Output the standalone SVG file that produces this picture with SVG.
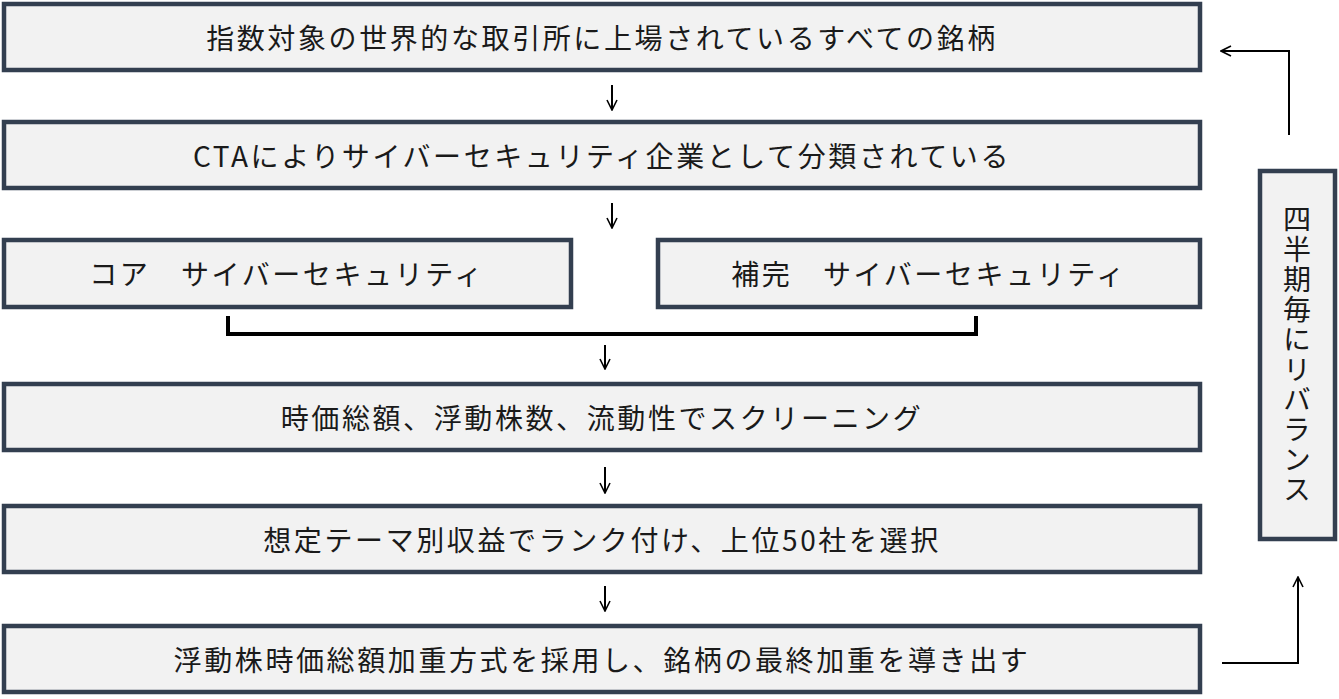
<svg xmlns="http://www.w3.org/2000/svg" width="1339" height="699" viewBox="0 0 1339 699">
<style>
.b{fill:#f2f2f2;stroke:#333f50;stroke-width:4.5}
.t{font-family:"Noto Sans CJK JP","Noto Sans",sans-serif;font-size:28px;letter-spacing:2.6px;fill:#1a1a1a;text-anchor:middle;dominant-baseline:central}
.c{fill:none;stroke:#000;stroke-width:2}
</style>
<defs><marker id="a" viewBox="0 0 12 12" refX="11" refY="6" markerWidth="12" markerHeight="12" markerUnits="userSpaceOnUse" orient="auto"><path d="M1,1 L11,6 L1,11" fill="none" stroke="#000" stroke-width="1.6"/></marker></defs>
<rect width="1339" height="699" fill="#fff"/>
<g id="n1"><rect class="b" x="4" y="4" width="1196" height="66"/><text class="t" x="602" y="37">指数対象の世界的な取引所に上場されているすべての銘柄</text></g>
<g id="n2"><rect class="b" x="4" y="122" width="1196" height="66"/><text class="t" x="602" y="155">CTAによりサイバーセキュリティ企業として分類されている</text></g>
<g id="n3a"><rect class="b" x="4" y="240" width="567" height="67"/><text class="t" x="287" y="273">コア　サイバーセキュリティ</text></g>
<g id="n3b"><rect class="b" x="658" y="240" width="542" height="67"/><text class="t" x="929" y="273">補完　サイバーセキュリティ</text></g>
<g id="n4"><rect class="b" x="4" y="384" width="1196" height="66"/><text class="t" x="602" y="417">時価総額、浮動株数、流動性でスクリーニング</text></g>
<g id="n5"><rect class="b" x="4" y="506" width="1196" height="66"/><text class="t" x="602" y="539">想定テーマ別収益でランク付け、上位50社を選択</text></g>
<g id="n6"><rect class="b" x="4" y="626" width="1196" height="66"/><text class="t" x="602" y="659">浮動株時価総額加重方式を採用し、銘柄の最終加重を導き出す</text></g>
<g id="n7"><rect class="b" x="1260" y="171" width="75" height="368"/><text x="1297" y="355" style="font-family:'Noto Sans CJK JP',sans-serif;font-size:28px;fill:#1a1a1a;writing-mode:vertical-rl;text-anchor:middle;letter-spacing:2px">四半期毎にリバランス</text></g>
<g id="connectors">
<path class="c" d="M612,85 V110" marker-end="url(#a)"/>
<path class="c" d="M612,203 V228" marker-end="url(#a)"/>
<path d="M228,316 V334 H976 V316" fill="none" stroke="#000" stroke-width="4"/>
<path class="c" d="M605,345 V369" marker-end="url(#a)"/>
<path class="c" d="M605,467 V493" marker-end="url(#a)"/>
<path class="c" d="M605,586 V611" marker-end="url(#a)"/>
<path class="c" d="M1289,135 V51 H1221" marker-end="url(#a)"/>
<path class="c" d="M1222,663 H1298 V577" marker-end="url(#a)"/>
</g>
</svg>
